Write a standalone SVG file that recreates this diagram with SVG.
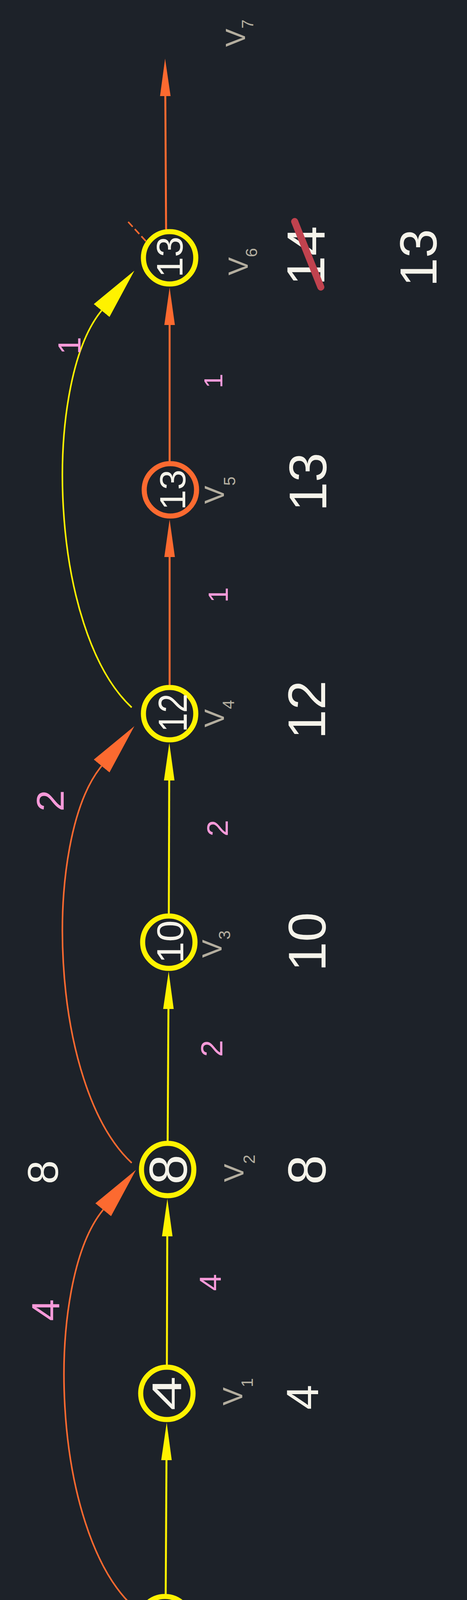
<svg xmlns="http://www.w3.org/2000/svg" width="1195" height="4280" viewBox="0 0 1195 4280">
<style>
text{font-family:"Liberation Sans",Arial,sans-serif;text-anchor:middle}
.node{fill:none;stroke-width:13}
.ny{stroke:#fff200}
.no{stroke:#fc6a30}
.nt{fill:#f5f3ea}
.vl{fill:#b4ae9f;text-anchor:start}
.pk{fill:#f79ad9}
.big{fill:#f5f3ea}
.ey{fill:none;stroke:#fff200;stroke-width:5}
.eo{fill:none;stroke:#fc6a30;stroke-width:5}
.cy{fill:none;stroke:#fff200;stroke-width:4}
.co{fill:none;stroke:#fc6a30;stroke-width:4}
</style>
<defs>
<marker id="ays" markerUnits="userSpaceOnUse" viewBox="0 -14 96 28" markerWidth="96" markerHeight="28" refX="0" refY="0" orient="auto"><path d="M0,-13.5 L96,0 L0,13.5 Z" fill="#fff200"/></marker>
<marker id="aos" markerUnits="userSpaceOnUse" viewBox="0 -14 96 28" markerWidth="96" markerHeight="28" refX="0" refY="0" orient="auto"><path d="M0,-13.5 L96,0 L0,13.5 Z" fill="#fc6a30"/></marker>
<marker id="ayl" markerUnits="userSpaceOnUse" viewBox="0 -26 132 52" markerWidth="132" markerHeight="52" refX="0" refY="0" orient="auto"><path d="M0,-26 L132,0 L0,26 Z" fill="#fff200"/></marker>
<marker id="aol" markerUnits="userSpaceOnUse" viewBox="0 -26 132 52" markerWidth="132" markerHeight="52" refX="0" refY="0" orient="auto"><path d="M0,-26 L132,0 L0,26 Z" fill="#fc6a30"/></marker>
</defs>
<rect width="1195" height="4280" fill="#1d2229"/>
<g id="connectors">
<path class="ey" d="M424,4081 L426,3738" marker-end="url(#ays)"/>
<path class="ey" d="M427,3494 L428,3165" marker-end="url(#ays)"/>
<path class="ey" d="M429,2921 L431,2583" marker-end="url(#ays)"/>
<path class="ey" d="M432,2339 L433,1998" marker-end="url(#ays)"/>
<path class="eo" d="M434,1754 L434,1426" marker-end="url(#aos)"/>
<path class="eo" d="M434,1181 L434,832" marker-end="url(#aos)"/>
<path class="eo" d="M425,587 L423,246" marker-end="url(#aos)"/>
<path class="co" d="M341,4113 c-212,-197 -229,-831 -77,-1016" marker-end="url(#aol)"/>
<path class="co" d="M337,2977 c-212,-197 -229,-831 -77,-1016" marker-end="url(#aol)"/>
<path class="cy" d="M337,1811 c-212,-197 -229,-831 -77,-1016" marker-end="url(#ayl)"/>
<path class="co" d="M328,568 L374,618" stroke-dasharray="17 8"/>
</g>
<g id="n0"><circle class="node ny" cx="422" cy="4154" r="67"/><text class="nt" font-size="106" transform="translate(463,4146) rotate(-90) scale(1.46,1)">0</text><text class="vl" font-size="70" transform="translate(620,4187) rotate(-90)">V<tspan font-size="42" dy="30">0</tspan></text></g>
<g id="n1"><circle class="node ny" cx="427" cy="3567" r="67"/><text class="nt" font-size="106" transform="translate(464,3567) rotate(-90) scale(1.49,1)">4</text><text class="vl" font-size="70" transform="translate(620,3598) rotate(-90)">V<tspan font-size="42" dy="27">1</tspan></text></g>
<g id="n2"><circle class="node ny" cx="429" cy="2994" r="67"/><text class="nt" font-size="138" transform="translate(478,2994) rotate(-90)">8</text><text class="vl" font-size="70" transform="translate(623,3026) rotate(-90)">V<tspan font-size="42" dy="29">2</tspan></text></g>
<g id="n3"><circle class="node ny" cx="432" cy="2412" r="67"/><text class="nt" font-size="96" transform="translate(469,2411) rotate(-90) scale(1.03,1)">10</text><text class="vl" font-size="70" transform="translate(567,2452) rotate(-90)">V<tspan font-size="42" dy="22">3</tspan></text></g>
<g id="n4"><circle class="node ny" cx="434" cy="1827" r="67"/><text class="nt" font-size="103" transform="translate(478,1825) rotate(-90) scale(0.86,1)">12</text><text class="vl" font-size="70" transform="translate(573,1862) rotate(-90)">V<tspan font-size="42" dy="26">4</tspan></text></g>
<g id="n5"><circle class="node no" cx="436" cy="1254" r="67"/><text class="nt" font-size="93" transform="translate(474,1254) rotate(-90)">13</text><text class="vl" font-size="70" transform="translate(573,1290) rotate(-90)">V<tspan font-size="42" dy="29">5</tspan></text></g>
<g id="n6"><circle class="node ny" cx="434" cy="660" r="67"/><text class="nt" font-size="94" transform="translate(467,658) rotate(-90)">13</text><text class="vl" font-size="70" transform="translate(634,705) rotate(-90)">V<tspan font-size="42" dy="24">6</tspan></text></g>
<g id="n7"><text class="vl" font-size="70" transform="translate(627,120) rotate(-90)">V<tspan font-size="42" dy="21">7</tspan></text></g>
<g id="edge-labels">
<text class="pk" font-size="100" transform="translate(152,3354) rotate(-90)">4</text>
<text class="pk" font-size="78" transform="translate(565,3283) rotate(-90)">4</text>
<text class="pk" font-size="78" transform="translate(569,2684) rotate(-90)">2</text>
<text class="pk" font-size="99" transform="translate(163,2050) rotate(-90)">2</text>
<text class="pk" font-size="76" transform="translate(583,2120) rotate(-90)">2</text>
<text class="pk" font-size="71" transform="translate(583,1523) rotate(-90)">1</text>
<text class="pk" font-size="82" transform="translate(206,885) rotate(-90)">1</text>
<text class="pk" font-size="67" transform="translate(569,975) rotate(-90)">1</text>
<text class="big" font-size="110" transform="translate(148,3001) rotate(-90)">8</text>
</g>
<g id="distances">
<text class="big" font-size="115" transform="translate(814,3577) rotate(-90)">4</text>
<text class="big" font-size="137" transform="translate(833,2995) rotate(-90)">8</text>
<text class="big" font-size="136" transform="translate(833,2411) rotate(-90)">10</text>
<text class="big" font-size="135" transform="translate(832,1817) rotate(-90)">12</text>
<text class="big" font-size="135" transform="translate(835,1234) rotate(-90)">13</text>
<text class="big" font-size="137" transform="translate(830,655) rotate(-90)">14</text>
<line x1="754" y1="567" x2="821" y2="735" stroke="#c0424e" stroke-width="18" stroke-linecap="round"/>
<text class="big" font-size="133" transform="translate(1117,660) rotate(-90)">13</text>
</g>
</svg>
